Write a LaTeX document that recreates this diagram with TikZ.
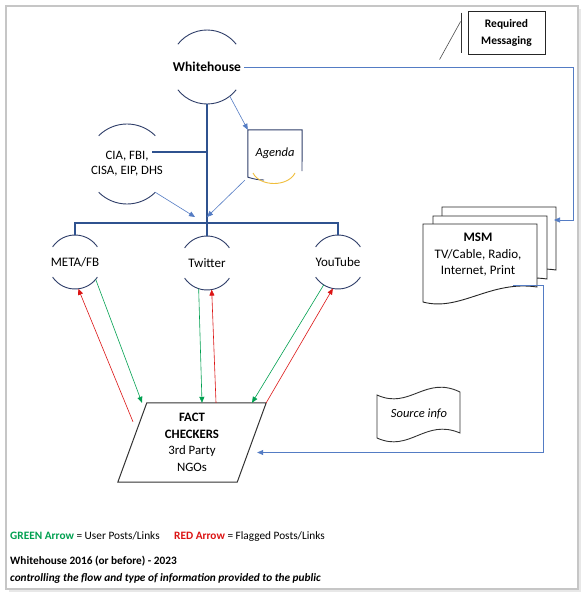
\documentclass[tikz,border=0pt]{standalone}
\usepackage{fontspec}
\setmainfont{Carlito}
\usetikzlibrary{arrows.meta, calc}

\definecolor{navyline}{RGB}{47,62,105}
\definecolor{busblue}{RGB}{47,82,143}
\definecolor{linkblue}{RGB}{84,124,196}
\definecolor{postgreen}{RGB}{0,160,80}
\definecolor{flagred}{RGB}{220,20,20}
\definecolor{agendagold}{RGB}{240,190,60}

\begin{document}
\begin{tikzpicture}[x=1pt, y=1pt,
	font=\fontsize{13}{16.5}\selectfont,
	ring/.style={circle, minimum size=#1, inner sep=0pt, outer sep=0pt, align=center},
	outline/.style={navyline, line width=0.9pt},
	trunk/.style={busblue, line width=1.4pt},
	link/.style={linkblue, line width=0.6pt, -{Triangle[length=6pt,width=5pt]}},
	post/.style={postgreen, line width=0.6pt, -{Triangle[length=6pt,width=5pt]}},
	flag/.style={flagred, line width=0.6pt, -{Triangle[length=6pt,width=5pt]}},
	legend/.style={anchor=base west, inner sep=0pt, font=\fontsize{11.3}{13}\selectfont}]
		\useasboundingbox (0,0) rectangle (585,-594);
		\fill[gray!18] (9,-9) rectangle (581,-592);
		\filldraw[fill=white, draw=gray!45, line width=1.2pt] (6,-6) rectangle (578,-589);
		%
		% round nodes
		\node[ring=74pt, font=\fontsize{13.5}{16}\selectfont\bfseries] (wh) at (207,-67) {Whitehouse};
		\node[ring=80pt, font=\fontsize{12.8}{15}\selectfont] (cia) at (127,-164) {CIA, FBI,\\CISA, EIP, DHS};
		\node[ring=54pt] (meta) at (75,-262) {META/FB};
		\node[ring=54pt] (tw) at (207,-263) {Twitter};
		\node[ring=54pt] (yt) at (338,-262) {YouTube};
		\foreach \n/\a/\r in {wh/38/37, cia/45/40, meta/34/27, tw/34/27, yt/34/27} {
			\draw[outline] ([shift={(180-\a:\r)}]\n.center) arc[start angle=180-\a, end angle=\a, radius=\r];
			\draw[outline] ([shift={(180+\a:\r)}]\n.center) arc[start angle=180+\a, end angle=360-\a, radius=\r];
		}
		%
		% agenda sheet
		\node[minimum width=54pt, minimum height=47pt, inner sep=0pt, font=\fontsize{12.5}{15}\selectfont\itshape] (agenda) at (275,-153.5) {Agenda};
		\draw[outline] (302,-171) -- (agenda.north east) -- (agenda.north west) -- (agenda.south west) .. controls (254,-179) and (258,-180) .. (264,-180);
		\draw[agendagold, line width=0.9pt] (253,-173) .. controls (260,-187) and (288,-187) .. (295,-173);
		%
		% trunk and bus
		\coordinate (bus) at (207,-223);
		\coordinate (junction) at (207,-217);
		\coordinate (ciaout) at (152,-152);
		\draw[trunk] (wh.south) -- (bus);
		\draw[trunk] (meta.north) |- (bus) -| (yt.north);
		\draw[trunk] (bus) -- (tw.north);
		\draw[trunk] (ciaout) -- (ciaout -| wh.south);
		\draw[link] (wh.-52) -- (agenda.north west);
		\draw[link] (cia.-45) -- ([xshift=-12pt]junction);
		\draw[link] ([shift={(-3,-3)}]agenda.south west) -- (junction);
		%
		% fact checkers
		\node[minimum width=148pt, minimum height=79pt, inner sep=0pt, align=center,
			font=\fontsize{12.8}{16.5}\selectfont] (fact) at (192,-442.5) {\textbf{FACT}\\\textbf{CHECKERS}\\3rd Party\\NGOs};
		\draw[black!80, line width=1pt] (fact.south west) -- ([xshift=-29pt]fact.south east)
			-- (fact.north east) -- ([xshift=29pt]fact.north west) -- cycle;
		\draw[post] (meta.-40) -- ([xshift=-50pt]fact.north);
		\draw[flag] ([shift={(-59,-19)}]fact.north) -- (meta.-83);
		\draw[post] (tw.-108) -- ([xshift=10pt]fact.north);
		\draw[flag] ([xshift=24pt]fact.north) -- (tw.-80);
		\draw[post] (yt.-122) -- ([xshift=60pt]fact.north);
		\draw[flag] (fact.north east) -- (yt.-101);
		%
		% MSM stack
		\foreach \dx/\dy in {19/17, 10/8, 0/0}
			\draw[outline, black!85, fill=white, shift={(\dx,\dy)}] (423,-224) -- (537,-224) -- (537,-287)
				.. controls (490,-280) and (460,-312) .. (423,-302) -- cycle;
		\node[align=center] (msm) at (478,-255) {\textbf{MSM}\\TV/Cable, Radio,\\Internet, Print};
		\coordinate (msmin) at (554,-220);
		\coordinate (msmout) at (513,-285);
		\draw[link] (wh.east) -- ++(329,0) |- (msmin);
		\draw[link] (msmout) -- ++(30,0) |- ([shift={(-9,-10)}]fact.east);
		%
		% source info tape
		\draw[outline, black!80] (377,-395) .. controls (410,-410) and (425,-375) .. (460,-392) -- (460,-433)
			.. controls (425,-418) and (410,-453) .. (377,-438) -- cycle;
		\node[font=\fontsize{12.5}{15}\selectfont\itshape] (src) at (419,-414) {Source info};
		%
		% required messaging note
		\node[draw=black!85, line width=0.9pt, minimum width=77pt, minimum height=43pt, align=center,
			font=\fontsize{11.5}{17}\selectfont\bfseries] (req) at (506.5,-32.5) {Required\\Messaging};
		\draw[black!80, line width=0.9pt] ([shift={(-6,-2)}]req.north west) -- ([shift={(-6,1)}]req.south west);
		\draw[black!70, line width=0.6pt] ([shift={(-7,-11)}]req.north west) -- ([shift={(-28,-49)}]req.north west);
		%
		% legend
		\node[legend] (leggreen) at (10,-539) {\textcolor{postgreen}{\textbf{GREEN Arrow}} = User Posts/Links};
		\node[legend] (legred) at (174,-539) {\textcolor{flagred}{\textbf{RED Arrow}} = Flagged Posts/Links};
		\node[legend] (title) at (10,-564) {\textbf{Whitehouse 2016 (or before) - 2023}};
		\node[legend] (subtitle) at (10,-581) {\textbf{\itshape controlling the flow and type of information provided to the public}};
	\end{tikzpicture}
\end{document}
